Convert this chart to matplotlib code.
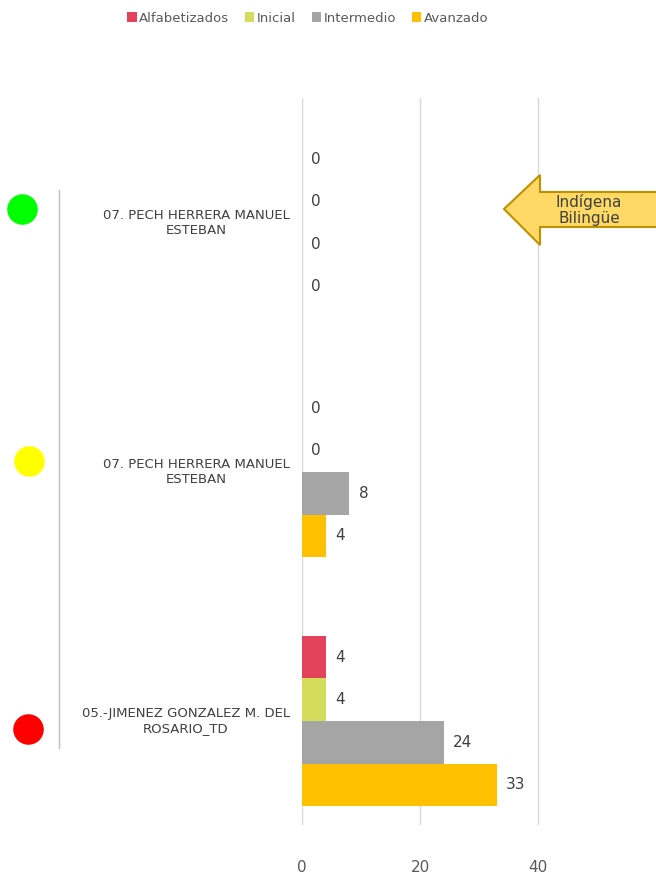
import matplotlib
matplotlib.use("Agg")
import matplotlib.pyplot as plt
import matplotlib.transforms as mtransforms
from matplotlib.patches import Polygon
from matplotlib.lines import Line2D
import numpy as np

# Teachers, bottom to top
teachers = ["05.-JIMENEZ GONZALEZ M. DEL\nROSARIO_TD",
            "07. PECH HERRERA MANUEL\nESTEBAN",
            "07. PECH HERRERA MANUEL\nESTEBAN"]
levels = ["Alfabetizados", "Inicial", "Intermedio", "Avanzado"]
alfabetizados = [4, 0, 0]
inicial = [4, 0, 0]
intermedio = [24, 8, 0]
avanzado = [33, 4, 0]
colors = ["#E3435A", "#D4DC5C", "#A5A5A5", "#FFC000"]
dot_colors = ["#FF0000", "#FFFF00", "#00FF00"]

W, H = 656, 874
fig = plt.figure(figsize=(W / 100, H / 100), dpi=100)
ax = fig.add_axes([302 / W, 1 - 825 / H, 1 - 302 / W, (825 - 98) / H])

series = [alfabetizados, inicial, intermedio, avanzado]
bar_h = 0.171
y = np.arange(len(teachers))
for i, (name, vals, c) in enumerate(zip(levels, series, colors)):
    offs = (1.5 - i) * bar_h
    ax.barh(y + offs, vals, height=bar_h, color=c, label=name, zorder=3)
    for yy, v in zip(y + offs, vals):
        ax.text(v + 1.6, yy, str(v), va="center", ha="left",
                fontsize=11, color="#404040")

ax.set_xlim(0, 60)
ax.set_ylim(-0.418, 2.502)
ax.set_xticks([0, 20, 40])
ax.tick_params(axis="x", length=0, labelsize=11, labelcolor="#595959", pad=25)
ax.set_yticks([])
ax.grid(axis="x", color="#D9D9D9", linewidth=1, zorder=0)
for s in ax.spines.values():
    s.set_visible(False)

# category labels and status dots on the left
blend = mtransforms.blended_transform_factory(fig.transFigure, ax.transData)
for yy, t in zip(y, teachers):
    fig.text(290 / W, yy, t, transform=blend, ha="right", va="center",
             multialignment="center", fontsize=9.5, color="#404040")

dot_pos = [(28, 729), (29, 461), (22, 209)]
for (px, py), c in zip(dot_pos, dot_colors):
    fig.add_artist(Line2D([px / W], [1 - py / H], marker="o", markersize=22,
                          color=c, markeredgewidth=0, linestyle="none",
                          transform=fig.transFigure))

fig.add_artist(Line2D([59 / W, 59 / W], [1 - 190 / H, 1 - 748 / H],
                      color="#BFBFBF", linewidth=1, transform=fig.transFigure))

# callout arrow
pts = [(504, 209), (540, 175), (540, 192), (670, 192), (670, 227), (540, 227), (540, 245)]
arrow = Polygon([(px / W, 1 - py / H) for px, py in pts], closed=True,
                facecolor="#FFD966", edgecolor="#BF9000", linewidth=1.5,
                transform=fig.transFigure, zorder=5)
fig.add_artist(arrow)
fig.text(589 / W, 1 - 210 / H, "Indígena\nBilingüe", ha="center", va="center",
         fontsize=11, color="#404040", linespacing=1.0, zorder=6)

fig.legend(loc="center", bbox_to_anchor=(308 / W, 1 - 18 / H), ncol=4,
           frameon=False, fontsize=9.5, handlelength=0.7, handleheight=0.7,
           handletextpad=0.2, columnspacing=1.2, labelcolor="#595959")

fig.savefig("out.png", dpi=100)
